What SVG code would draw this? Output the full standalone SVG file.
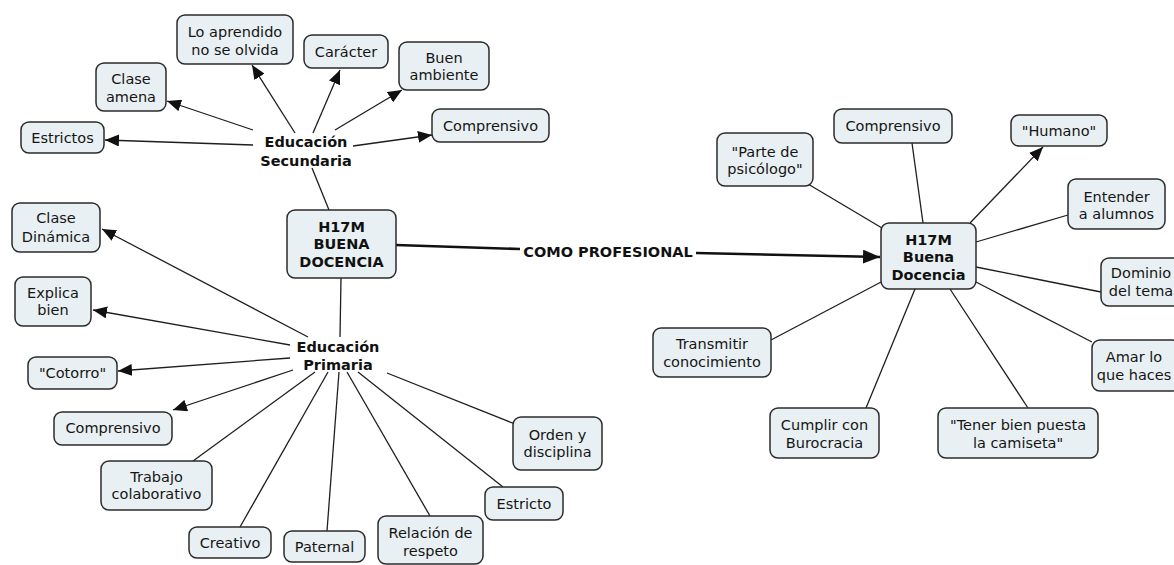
<svg xmlns="http://www.w3.org/2000/svg" width="1174" height="565" viewBox="0 0 1174 565">
<defs>
<style>
.b{fill:#e9f0f3;stroke:#2b2b2b;stroke-width:1.5}
.t{font-family:"DejaVu Sans",Verdana,sans-serif;font-size:14.5px;fill:#151515;text-anchor:middle}
.bt{font-family:"DejaVu Sans",Verdana,sans-serif;font-size:14.5px;font-weight:bold;fill:#111;text-anchor:middle}
.l{stroke:#1e1e1e;stroke-width:1.3;fill:none}
.a{stroke:#1e1e1e;stroke-width:1.3;fill:none;marker-end:url(#arr)}
.th{stroke:#111;stroke-width:2.6;fill:none}
</style>
<marker id="arr" markerUnits="userSpaceOnUse" markerWidth="15" markerHeight="12" refX="14" refY="6" orient="auto"><path d="M0,0 L14,6 L0,12 z" fill="#111"/></marker>
<marker id="arrBig" markerUnits="userSpaceOnUse" markerWidth="18" markerHeight="14" refX="17" refY="7" orient="auto"><path d="M0,0 L17,7 L0,14 z" fill="#111"/></marker>
</defs>
<rect width="1174" height="565" fill="#ffffff"/>

<g id="connectors">
<!-- Secundaria -->
<line class="a" x1="253" y1="145" x2="105" y2="140"/>
<line class="a" x1="253" y1="130" x2="167" y2="101"/>
<line class="a" x1="295" y1="133" x2="252" y2="65"/>
<line class="a" x1="313" y1="133" x2="340" y2="70"/>
<line class="a" x1="335" y1="130" x2="402" y2="90"/>
<line class="a" x1="353" y1="146" x2="432" y2="135"/>
<line class="l" x1="312" y1="168" x2="329" y2="210"/>
<!-- Primaria -->
<line class="l" x1="341" y1="278" x2="340" y2="337"/>
<line class="a" x1="308" y1="337" x2="102" y2="229"/>
<line class="a" x1="290" y1="345" x2="93" y2="310"/>
<line class="a" x1="290" y1="358" x2="118" y2="371"/>
<line class="a" x1="293" y1="370" x2="173" y2="410"/>
<line class="l" x1="315" y1="372" x2="193" y2="461"/>
<line class="l" x1="328" y1="372" x2="240" y2="527"/>
<line class="l" x1="339" y1="372" x2="327" y2="531"/>
<line class="l" x1="347" y1="372" x2="430" y2="516"/>
<line class="l" x1="358" y1="372" x2="503" y2="487"/>
<line class="l" x1="387" y1="373" x2="515" y2="424"/>
<!-- Como profesional -->
<line class="th" x1="396" y1="245" x2="520" y2="249"/>
<line class="th" x1="696" y1="253" x2="880" y2="257" marker-end="url(#arrBig)"/>
<!-- Right -->
<line class="l" x1="923" y1="223" x2="912" y2="143"/>
<line class="l" x1="882" y1="228" x2="808" y2="184"/>
<line class="a" x1="970" y1="223" x2="1043" y2="147"/>
<line class="l" x1="976" y1="242" x2="1068" y2="215"/>
<line class="l" x1="976" y1="267" x2="1101" y2="292"/>
<line class="l" x1="976" y1="282" x2="1092" y2="342"/>
<line class="l" x1="950" y1="289" x2="1028" y2="408"/>
<line class="l" x1="915" y1="289" x2="866" y2="408"/>
<line class="l" x1="883" y1="281" x2="771" y2="340"/>
<text class="bt" x="608" y="257">COMO PROFESIONAL</text>
</g>

<g id="n-sec"><text class="bt" x="306" y="147">Educación</text><text class="bt" x="306" y="166">Secundaria</text></g>
<g id="n-lo"><rect class="b" x="177" y="15" width="116" height="49" rx="8"/><text class="t" x="235" y="37">Lo aprendido</text><text class="t" x="235" y="55">no se olvida</text></g>
<g id="n-car"><rect class="b" x="304" y="35" width="84" height="33" rx="8"/><text class="t" x="346" y="57">Carácter</text></g>
<g id="n-buen"><rect class="b" x="399" y="42" width="90" height="48" rx="8"/><text class="t" x="444" y="63">Buen</text><text class="t" x="444" y="80">ambiente</text></g>
<g id="n-amena"><rect class="b" x="96" y="63" width="70" height="48" rx="8"/><text class="t" x="131" y="84">Clase</text><text class="t" x="131" y="102">amena</text></g>
<g id="n-comp1"><rect class="b" x="432" y="109" width="117" height="33" rx="8"/><text class="t" x="490.5" y="131">Comprensivo</text></g>
<g id="n-estrictos"><rect class="b" x="21" y="122" width="83" height="31" rx="8"/><text class="t" x="62.5" y="143">Estrictos</text></g>

<g id="n-main1"><rect class="b" x="287" y="210" width="109" height="68" rx="8"/><text class="bt" x="341.5" y="232">H17M</text><text class="bt" x="341.5" y="249">BUENA</text><text class="bt" x="341.5" y="267">DOCENCIA</text></g>

<g id="n-pri"><text class="bt" x="338" y="352">Educación</text><text class="bt" x="338" y="370">Primaria</text></g>
<g id="n-din"><rect class="b" x="12" y="203" width="88" height="49" rx="8"/><text class="t" x="56" y="223">Clase</text><text class="t" x="56" y="242">Dinámica</text></g>
<g id="n-exp"><rect class="b" x="15" y="277" width="76" height="49" rx="8"/><text class="t" x="53" y="298">Explica</text><text class="t" x="53" y="315">bien</text></g>
<g id="n-cot"><rect class="b" x="28" y="357" width="89" height="32" rx="8"/><text class="t" x="72.5" y="378">"Cotorro"</text></g>
<g id="n-comp2"><rect class="b" x="54" y="412" width="118" height="33" rx="8"/><text class="t" x="113" y="433">Comprensivo</text></g>
<g id="n-trab"><rect class="b" x="101" y="461" width="111" height="49" rx="8"/><text class="t" x="156.5" y="482">Trabajo</text><text class="t" x="156.5" y="499">colaborativo</text></g>
<g id="n-crea"><rect class="b" x="189" y="527" width="82" height="31" rx="8"/><text class="t" x="230" y="547.5">Creativo</text></g>
<g id="n-pat"><rect class="b" x="284" y="531" width="81" height="31" rx="8"/><text class="t" x="324.5" y="551.5">Paternal</text></g>
<g id="n-rel"><rect class="b" x="378" y="516" width="105" height="48" rx="8"/><text class="t" x="430.5" y="538">Relación de</text><text class="t" x="430.5" y="556">respeto</text></g>
<g id="n-estr"><rect class="b" x="485" y="487" width="78" height="33" rx="8"/><text class="t" x="524" y="509">Estricto</text></g>
<g id="n-orden"><rect class="b" x="513" y="417" width="89" height="53" rx="8"/><text class="t" x="557.5" y="440">Orden y</text><text class="t" x="557.5" y="457">disciplina</text></g>

<g id="n-main2"><rect class="b" x="881" y="223" width="95" height="66" rx="8"/><text class="bt" x="928.5" y="245">H17M</text><text class="bt" x="928.5" y="262">Buena</text><text class="bt" x="928.5" y="280">Docencia</text></g>
<g id="n-comp3"><rect class="b" x="834" y="109" width="118" height="34" rx="8"/><text class="t" x="893" y="131">Comprensivo</text></g>
<g id="n-parte"><rect class="b" x="717" y="133" width="96" height="53" rx="8"/><text class="t" x="765" y="157">"Parte de</text><text class="t" x="765" y="174">psicólogo"</text></g>
<g id="n-hum"><rect class="b" x="1011" y="115" width="96" height="31" rx="8"/><text class="t" x="1059" y="136">"Humano"</text></g>
<g id="n-ent"><rect class="b" x="1068" y="179" width="97" height="50" rx="8"/><text class="t" x="1116.5" y="202">Entender</text><text class="t" x="1116.5" y="219">a alumnos</text></g>
<g id="n-dom"><rect class="b" x="1101" y="258" width="84" height="48" rx="8"/><text class="t" x="1141" y="278">Dominio</text><text class="t" x="1141" y="296">del tema</text></g>
<g id="n-amar"><rect class="b" x="1092" y="340" width="88" height="51" rx="8"/><text class="t" x="1134" y="362">Amar lo</text><text class="t" x="1134" y="380">que haces</text></g>
<g id="n-trans"><rect class="b" x="653" y="328" width="118" height="49" rx="8"/><text class="t" x="712" y="349">Transmitir</text><text class="t" x="712" y="367">conocimiento</text></g>
<g id="n-cump"><rect class="b" x="770" y="408" width="109" height="50" rx="8"/><text class="t" x="824.5" y="430">Cumplir con</text><text class="t" x="824.5" y="448">Burocracia</text></g>
<g id="n-tener"><rect class="b" x="938" y="408" width="160" height="50" rx="8"/><text class="t" x="1018" y="430">"Tener bien puesta</text><text class="t" x="1018" y="448">la camiseta"</text></g>
</svg>
